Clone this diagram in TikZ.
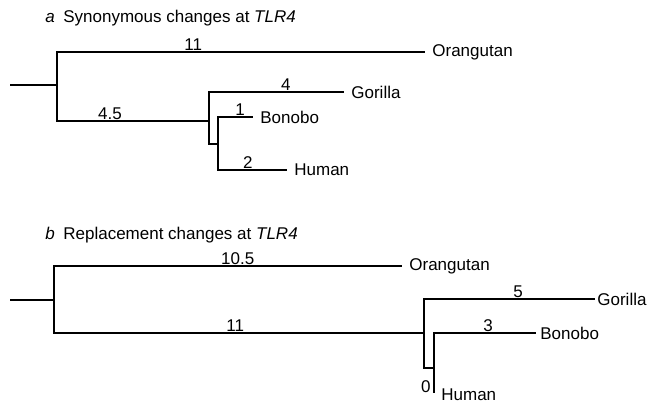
\documentclass[tikz,border=0pt]{standalone}
\usepackage{fontspec}
\setmainfont{Liberation Sans}
\usetikzlibrary{positioning}

\begin{document}
\begin{tikzpicture}[
  x=0.5pt, y=-0.5pt,
  branch/.style={line width=0.55pt},
  taxon/.style={anchor=west, inner sep=3.5pt, font=\fontsize{8.5}{10}\selectfont},
  len/.style={above, inner sep=0.6pt, font=\fontsize{8.5}{10}\selectfont},
  panel/.style={anchor=west, inner sep=0pt, font=\fontsize{8.5}{10}\selectfont}
]
\useasboundingbox (0,0) rectangle (648,405);

% panel a
\node[panel] (ta) at (45,18) {\textit{a}\enspace Synonymous changes at \textit{TLR4}};
\coordinate (aroot) at (10,85);
\coordinate (a0) at (57,85);
\coordinate (a1) at (209,121);
\coordinate (a2) at (218,144);
\coordinate (aOra) at (425,52);
\coordinate (aGor) at (344,92);
\coordinate (aBon) at (253,117);
\coordinate (aHum) at (287,170);

\draw[branch] (aroot) -- (a0);
\draw[branch] (a0) |- node[len, pos=0.685] {11} (aOra);
\draw[branch] (a0) |- node[len, pos=0.674] {4.5} (a1);
\draw[branch] (a1) |- node[len, pos=0.785] {4} (aGor);
\draw[branch] (a1) |- (a2);
\draw[branch] (a2) |- node[len, pos=0.814] {1} (aBon);
\draw[branch] (a2) |- node[len, pos=0.717] {2} (aHum);

\node[taxon] (ora-a) at (aOra) {Orangutan};
\node[taxon] (gor-a) at (aGor) {Gorilla};
\node[taxon] (bon-a) at (aBon) {Bonobo};
\node[taxon] (hum-a) at (aHum) {Human};

% panel b
\node[panel] (tb) at (45,235) {\textit{b}\enspace Replacement changes at \textit{TLR4}};
\coordinate (broot) at (10,300);
\coordinate (b0) at (54,300);
\coordinate (b1) at (424,333);
\coordinate (b2) at (434,368);
\coordinate (bOra) at (402,266);
\coordinate (bGor) at (595,299);
\coordinate (bBon) at (536,333);
\coordinate (bHum) at (434,393);

\draw[branch] (broot) -- (b0);
\draw[branch] (b0) |- node[len, pos=0.764] {10.5} (bOra);
\draw[branch] (b0) |- node[len, pos=0.745] {11} (b1);
\draw[branch] (b1) |- node[len, pos=0.775] {5} (bGor);
\draw[branch] (b1) |- (b2);
\draw[branch] (b2) |- node[len, pos=0.765] {3} (bBon);
\draw[branch] (b2) -- node[left, inner sep=1.5pt, pos=0.76, font=\fontsize{8.5}{10}\selectfont] {0} (bHum);

\node[taxon] (ora-b) at (bOra) {Orangutan};
\node[taxon, inner sep=1pt] (gor-b) at (bGor) {Gorilla};
\node[taxon, inner sep=2pt] (bon-b) at (bBon) {Bonobo};
\node[taxon, yshift=-1pt] (hum-b) at (bHum) {Human};
\end{tikzpicture}
\end{document}
